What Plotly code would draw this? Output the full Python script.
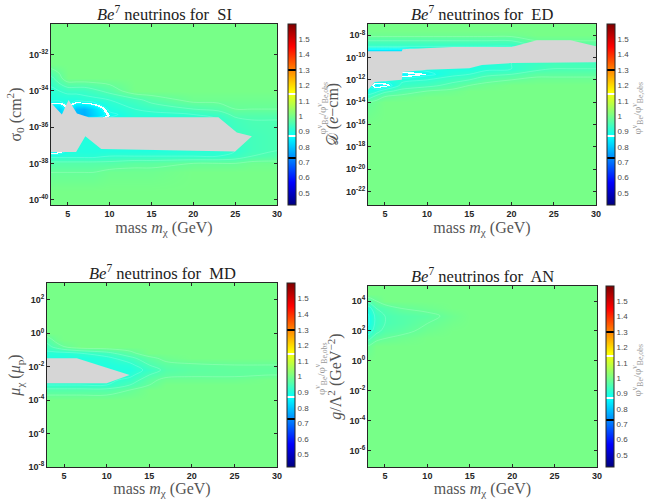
import plotly.graph_objects as go

# ---------------------------------------------------------------------------
# Ratio phi_Be / phi_Be,obs on (mass, log10 coupling) grids, one per operator.
# Rows follow the log-coupling list, columns follow the mass list.
# ---------------------------------------------------------------------------

# --- SI : sigma_0 (cm^2)
si_mass = [2, 3, 4, 5, 6, 7, 8, 10, 13, 15, 20, 23, 25, 27, 30, 31]
si_logc = [-41, -39.5, -38.5, -38, -37.6, -37.3, -36.5, -35.6, -35.3, -35,
           -34.5, -34, -33.3, -32.5, -31.5, -30]
si_ratio = [
    [1.0] * 16,
    [1.0] * 16,
    [0.98, 0.98, 0.98, 0.98, 0.98, 0.98, 0.98, 0.99, 0.99, 0.99, 1.0, 1.0, 1.0, 1.0, 1.0, 1.0],
    [0.96, 0.96, 0.96, 0.96, 0.96, 0.96, 0.96, 0.96, 0.97, 0.97, 0.98, 0.98, 0.98, 0.99, 0.99, 0.99],
    [0.91, 0.91, 0.91, 0.91, 0.91, 0.91, 0.91, 0.92, 0.92, 0.92, 0.92, 0.92, 0.93, 0.95, 0.96, 0.96],
    [0.84, 0.84, 0.86, 0.9, 0.9, 0.9, 0.9, 0.9, 0.9, 0.9, 0.91, 0.91, 0.92, 0.94, 0.95, 0.95],
    [0.9, 0.9, 0.9, 0.9, 0.9, 0.9, 0.9, 0.9, 0.9, 0.9, 0.91, 0.91, 0.93, 0.94, 0.95, 0.95],
    [0.88, 0.88, 0.88, 0.88, 0.88, 0.88, 0.88, 0.9, 0.9, 0.9, 0.91, 0.92, 0.94, 0.95, 0.95, 0.95],
    [0.8, 0.8, 0.8, 0.85, 0.78, 0.77, 0.81, 0.88, 0.91, 0.91, 0.92, 0.93, 0.96, 0.96, 0.96, 0.96],
    [0.82, 0.82, 0.81, 0.88, 0.79, 0.78, 0.82, 0.9, 0.92, 0.93, 0.95, 0.96, 0.98, 0.98, 0.98, 0.98],
    [0.9, 0.9, 0.9, 0.9, 0.9, 0.91, 0.91, 0.92, 0.94, 0.96, 0.99, 0.99, 0.99, 0.99, 0.99, 0.99],
    [0.91, 0.91, 0.92, 0.93, 0.93, 0.93, 0.94, 0.96, 1.0, 1.0, 1.0, 1.0, 1.0, 1.0, 1.0, 1.0],
    [0.94, 0.94, 0.97, 1.0, 1.0, 1.0, 1.0, 1.0, 1.0, 1.0, 1.0, 1.0, 1.0, 1.0, 1.0, 1.0],
    [1.0] * 16,
    [1.0] * 16,
    [1.0] * 16,
]
# excluded (no-solution) region outline: mass, log10 sigma_0
si_gap_mass = [3, 4.3, 5.1, 6.1, 7.5, 23, 25.2, 27, 25, 9, 7.1, 6, 3]
si_gap_logc = [-34.65, -35.3, -34.5, -35.25, -35.45, -35.45, -36.3, -36.5,
               -37.35, -37.2, -36.5, -37.37, -37.37]
si_ticks = [-40, -38, -36, -34, -32]
si_ticktext = ["10<sup>-40</sup>", "10<sup>-38</sup>", "10<sup>-36</sup>",
               "10<sup>-34</sup>", "10<sup>-32</sup>"]

# --- ED : electric dipole D (e-cm)
ed_mass = [2, 3, 4, 5, 7, 10, 13, 15, 17, 20, 23, 25, 27, 30, 31]
ed_logc = [-24, -16, -14, -13.5, -13, -12.5, -12, -11.5, -11, -10.5, -10,
           -9.5, -9, -8.5, -8, -7.5, -6.5]
ed_ratio = [
    [1.0] * 15,
    [1.0] * 15,
    [0.98, 0.98, 0.99, 1.0, 1.0, 1.0, 1.0, 1.0, 1.0, 1.0, 1.0, 1.0, 1.0, 1.0, 1.0],
    [0.93, 0.93, 0.96, 0.98, 0.99, 1.0, 1.0, 1.0, 1.0, 1.0, 1.0, 1.0, 1.0, 1.0, 1.0],
    [0.9, 0.9, 0.91, 0.94, 0.96, 0.98, 0.99, 1.0, 1.0, 1.0, 1.0, 1.0, 1.0, 1.0, 1.0],
    [0.9, 0.9, 0.85, 0.86, 0.93, 0.94, 0.96, 0.98, 0.99, 1.0, 1.0, 1.0, 1.0, 1.0, 1.0],
    [0.9, 0.9, 0.9, 0.9, 0.91, 0.92, 0.94, 0.95, 0.97, 0.98, 0.99, 0.99, 0.99, 0.99, 0.99],
    [0.9, 0.9, 0.9, 0.9, 0.85, 0.88, 0.91, 0.92, 0.94, 0.95, 0.97, 0.97, 0.97, 0.97, 0.97],
    [0.9, 0.9, 0.9, 0.9, 0.9, 0.9, 0.9, 0.9, 0.91, 0.92, 0.94, 0.95, 0.95, 0.95, 0.95],
    [0.9, 0.9, 0.9, 0.9, 0.9, 0.9, 0.9, 0.9, 0.9, 0.92, 0.93, 0.94, 0.94, 0.94, 0.94],
    [0.9] * 15,
    [0.8, 0.8, 0.8, 0.8, 0.8, 0.88, 0.9, 0.9, 0.9, 0.9, 0.9, 0.9, 0.9, 0.9, 0.9],
    [0.92, 0.92, 0.92, 0.92, 0.92, 0.92, 0.92, 0.92, 0.92, 0.92, 0.95, 0.96, 0.96, 0.96, 0.96],
    [0.95, 0.95, 0.95, 0.95, 0.95, 0.95, 0.95, 0.95, 0.95, 0.95, 0.98, 0.98, 0.98, 0.98, 0.98],
    [0.99, 0.99, 0.99, 0.99, 0.99, 0.99, 0.99, 0.99, 0.99, 0.99, 1.0, 1.0, 1.0, 1.0, 1.0],
    [1.0] * 15,
    [1.0] * 15,
]
ed_gap_mass = [3, 7, 7.1, 13, 20, 23, 27, 30, 30, 20, 16.5, 15, 10, 7.1, 7, 3.8, 3]
ed_gap_logc = [-9.45, -9.45, -9.25, -9.05, -9.05, -8.45, -8.45, -9.0,
               -10.43, -10.5, -10.67, -10.97, -11.1, -11.3, -12.0, -12.2, -12.9]
ed_ticks = [-22, -20, -18, -16, -14, -12, -10, -8]
ed_ticktext = ["10<sup>-22</sup>", "10<sup>-20</sup>", "10<sup>-18</sup>",
               "10<sup>-16</sup>", "10<sup>-14</sup>", "10<sup>-12</sup>",
               "10<sup>-10</sup>", "10<sup>-8</sup>"]

# --- MD : magnetic dipole mu_chi (mu_p)
md_mass = [2, 3, 4, 5, 7, 10, 12.7, 15, 17, 20, 25, 29, 30, 31]
md_logc = [-9, -6, -4, -3.4, -3.1, -2.8, -2.5, -2.2, -1.9, -1.5, -1.2, -0.8,
           -0.4, 0, 1, 2, 4]
md_ratio = [
    [1.0] * 14,
    [1.0] * 14,
    [1.0] * 14,
    [0.96, 0.96, 0.96, 0.96, 0.96, 0.96, 0.98, 1.0, 1.0, 1.0, 1.0, 1.0, 1.0, 1.0],
    [0.92, 0.92, 0.92, 0.92, 0.92, 0.92, 0.95, 0.98, 1.0, 1.0, 1.0, 1.0, 1.0, 1.0],
    [0.91, 0.91, 0.91, 0.91, 0.91, 0.91, 0.93, 0.97, 0.99, 0.99, 0.99, 1.0, 1.0, 1.0],
    [0.9, 0.9, 0.9, 0.9, 0.9, 0.9, 0.91, 0.95, 0.97, 0.975, 0.975, 0.98, 0.98, 0.98],
    [0.9, 0.9, 0.9, 0.9, 0.9, 0.9, 0.9, 0.93, 0.96, 0.97, 0.975, 0.975, 0.975, 0.975],
    [0.9, 0.9, 0.9, 0.9, 0.9, 0.9, 0.91, 0.95, 0.97, 0.975, 0.98, 0.98, 0.98, 0.98],
    [0.9, 0.9, 0.9, 0.9, 0.9, 0.91, 0.94, 0.97, 0.99, 1.0, 1.0, 1.0, 1.0, 1.0],
    [0.91, 0.91, 0.91, 0.91, 0.92, 0.94, 0.97, 1.0, 1.0, 1.0, 1.0, 1.0, 1.0, 1.0],
    [0.94, 0.94, 0.96, 0.98, 1.0, 1.0, 1.0, 1.0, 1.0, 1.0, 1.0, 1.0, 1.0, 1.0],
    [0.96, 0.96, 0.99, 1.0, 1.0, 1.0, 1.0, 1.0, 1.0, 1.0, 1.0, 1.0, 1.0, 1.0],
    [1.0] * 14,
    [1.0] * 14,
    [1.0] * 14,
    [1.0] * 14,
]
md_gap_mass = [3, 6.5, 12.7, 10, 3]
md_gap_logc = [-1.5, -1.5, -2.5, -3.0, -3.0]
md_ticks = [-8, -6, -4, -2, 0, 2]
md_ticktext = ["10<sup>-8</sup>", "10<sup>-6</sup>", "10<sup>-4</sup>",
               "10<sup>-2</sup>", "10<sup>0</sup>", "10<sup>2</sup>"]

# --- AN : anapole g / Lambda^2 (GeV^-2)
an_mass = [2, 3, 4, 5, 7, 10, 13, 15, 31]
an_logc = [-8, 0, 1, 1.5, 2, 2.5, 3, 3.5, 4, 4.5, 6]
an_ratio = [
    [1.0] * 9,
    [1.0] * 9,
    [0.98, 0.98, 1.0, 1.0, 1.0, 1.0, 1.0, 1.0, 1.0],
    [0.94, 0.94, 0.97, 0.98, 0.99, 1.0, 1.0, 1.0, 1.0],
    [0.9, 0.9, 0.94, 0.96, 0.97, 0.99, 1.0, 1.0, 1.0],
    [0.885, 0.885, 0.93, 0.95, 0.96, 0.98, 0.995, 1.0, 1.0],
    [0.885, 0.885, 0.93, 0.95, 0.96, 0.97, 0.99, 1.0, 1.0],
    [0.9, 0.9, 0.95, 0.96, 0.98, 0.99, 1.0, 1.0, 1.0],
    [0.96, 0.96, 0.98, 1.0, 1.0, 1.0, 1.0, 1.0, 1.0],
    [1.0] * 9,
    [1.0] * 9,
]
an_ticks = [-6, -4, -2, 0, 2, 4]
an_ticktext = ["10<sup>-6</sup>", "10<sup>-4</sup>", "10<sup>-2</sup>",
               "10<sup>0</sup>", "10<sup>2</sup>", "10<sup>4</sup>"]

mass_ticks = [5, 10, 15, 20, 25, 30]
cbar_ticks = [0.5, 0.6, 0.7, 0.8, 0.9, 1.0, 1.1, 1.2, 1.3, 1.4, 1.5]
cbar_ticktext = ["0.5", "0.6", "0.7", "0.8", "0.9", "1", "1.1", "1.2", "1.3", "1.4", "1.5"]
cbar_label = "φ<sup>ν</sup><sub>Be</sub>/φ<sup>ν</sup><sub>Be,obs</sub>"

# ---------------------------------------------------------------------------
# Jet colour map with black / white marker bands
# ---------------------------------------------------------------------------
ZMIN, ZMAX = 0.42, 1.6


def jet(t):
    def c(v):
        return max(0.0, min(1.0, v))
    r = c(1.5 - abs(4 * t - 3))
    g = c(1.5 - abs(4 * t - 2))
    b = c(1.5 - abs(4 * t - 1))
    return "rgb(%d,%d,%d)" % (round(r * 255), round(g * 255), round(b * 255))


def norm(v):
    return (v - ZMIN) / (ZMAX - ZMIN)


bands = [(0.726, "rgb(0,0,0)"), (0.872, "rgb(255,255,255)"),
         (1.145, "rgb(255,255,255)"), (1.297, "rgb(0,0,0)")]
half = 0.0065
band_edges = [(norm(v - half), norm(v + half), col) for v, col in bands]

stops = [i / 64 for i in range(65)]
colorscale = []
for t in stops:
    if any(a <= t <= b for a, b, _ in band_edges):
        continue
    colorscale.append([t, jet(t)])
for a, b, col in band_edges:
    colorscale += [[a, jet(a)], [a, col], [b, col], [b, jet(b)]]
colorscale.sort(key=lambda s: s[0])

GREY = "#d6d6d6"
AXCOL = "#262626"
SERIF = "Liberation Serif, Times New Roman, serif"
SANS = "Liberation Sans, Arial, sans-serif"

fig = go.Figure()

panels = [
    dict(name="SI", mass=si_mass, logc=si_logc, z=si_ratio,
         gap=(si_gap_mass, si_gap_logc), ticks=si_ticks, ticktext=si_ticktext,
         yrange=[-40.3, -30.3], ytitle="σ<sub>0</sub> (cm<sup>2</sup>)",
         xdom=[51 / 645, 277 / 645], ydom=[(499 - 205) / 499, (499 - 24) / 499],
         cbx=288 / 645, lblx=322 / 645),
    dict(name="ED", mass=ed_mass, logc=ed_logc, z=ed_ratio,
         gap=(ed_gap_mass, ed_gap_logc), ticks=ed_ticks, ticktext=ed_ticktext,
         yrange=[-23.2, -7.0], ytitle="𝒟 (<i>e</i>−cm)",
         xdom=[368 / 645, 596 / 645], ydom=[(499 - 205) / 499, (499 - 24) / 499],
         cbx=607 / 645, lblx=637 / 645),
    dict(name="MD", mass=md_mass, logc=md_logc, z=md_ratio,
         gap=(md_gap_mass, md_gap_logc), ticks=md_ticks, ticktext=md_ticktext,
         yrange=[-8.0, 3.0], ytitle="<i>μ</i><sub>χ</sub> (<i>μ</i><sub>p</sub>)",
         xdom=[47 / 645, 277 / 645], ydom=[(499 - 467) / 499, (499 - 283) / 499],
         cbx=287 / 645, lblx=321 / 645),
    dict(name="AN", mass=an_mass, logc=an_logc, z=an_ratio,
         gap=None, ticks=an_ticks, ticktext=an_ticktext,
         yrange=[-7.07, 5.0], ytitle="<i>g</i>/Λ<sup>2</sup> (GeV<sup>−2</sup>)",
         xdom=[368 / 645, 597 / 645], ydom=[(499 - 467) / 499, (499 - 286) / 499],
         cbx=606 / 645, lblx=637 / 645),
]

for i, p in enumerate(panels):
    n = "" if i == 0 else str(i + 1)
    xa, ya = "x" + n, "y" + n
    y0, y1 = p["ydom"]
    fig.add_trace(go.Heatmap(
        x=p["mass"], y=p["logc"], z=p["z"], zsmooth="best",
        zmin=ZMIN, zmax=ZMAX, colorscale=colorscale, xaxis=xa, yaxis=ya,
        hoverinfo="skip",
        colorbar=dict(
            x=p["cbx"], xanchor="left", xpad=0, ypad=0,
            y=(y0 + y1) / 2, yanchor="middle", len=y1 - y0, lenmode="fraction",
            thickness=8, outlinecolor=AXCOL, outlinewidth=1,
            tickvals=cbar_ticks, ticktext=cbar_ticktext, ticks="",
            tickfont=dict(family=SANS, size=8, color="#4a4a4a"),
        ),
    ))
    fig.add_trace(go.Contour(
        x=p["mass"], y=p["logc"], z=p["z"], xaxis=xa, yaxis=ya,
        contours=dict(coloring="none", start=0.86, end=0.99, size=0.03),
        line=dict(color="rgba(255,255,255,0.3)", width=0.6),
        showscale=False, hoverinfo="skip",
    ))
    if p["gap"] is not None:
        gm, gc = p["gap"]
        fig.add_trace(go.Scatter(
            x=gm, y=gc, xaxis=xa, yaxis=ya, mode="lines", fill="toself",
            fillcolor=GREY, line=dict(width=0, color=GREY), hoverinfo="skip",
            showlegend=False,
        ))

    axis_common = dict(showgrid=False, zeroline=False, showline=True,
                       linecolor=AXCOL, linewidth=1, mirror="ticks",
                       ticks="inside", ticklen=3, tickcolor=AXCOL,
                       tickfont=dict(family=SANS, size=9, color=AXCOL, weight="bold"),
                       automargin=False)
    fig.update_layout(**{
        ("xaxis" + n): dict(axis_common, domain=p["xdom"], anchor=ya,
                            range=[3, 30], tickvals=mass_ticks,
                            title=dict(text="mass <i>m</i><sub>χ</sub> (GeV)", standoff=3,
                                       font=dict(family=SERIF, size=16, color="#555555"))),
        ("yaxis" + n): dict(axis_common, domain=p["ydom"], anchor=xa,
                            range=p["yrange"], tickvals=p["ticks"], ticktext=p["ticktext"],
                            title=dict(text=p["ytitle"], standoff=3,
                                       font=dict(family=SERIF, size=16, color="#555555"))),
    })
    fig.add_annotation(
        text="<i>Be</i><sup>7</sup> neutrinos for  " + p["name"],
        xref="paper", yref="paper", x=sum(p["xdom"]) / 2, y=y1 + 11 / 499,
        xanchor="center", yanchor="middle", showarrow=False,
        font=dict(family=SERIF, size=16.5, color="#222222"),
    )
    # colour-bar label, rotated, to the right of the tick labels
    fig.add_annotation(
        text=cbar_label, textangle=-90,
        xref="paper", yref="paper", x=p["lblx"], y=(y0 + y1) / 2 + 6 / 499,
        xanchor="center", yanchor="middle", showarrow=False,
        font=dict(family=SERIF, size=11, color="#9a9a9a"),
    )

fig.update_layout(
    width=645, height=499, margin=dict(l=0, r=0, t=0, b=0),
    paper_bgcolor="white", plot_bgcolor="white", showlegend=False,
    template="none",
)

fig.write_html("out.html")
